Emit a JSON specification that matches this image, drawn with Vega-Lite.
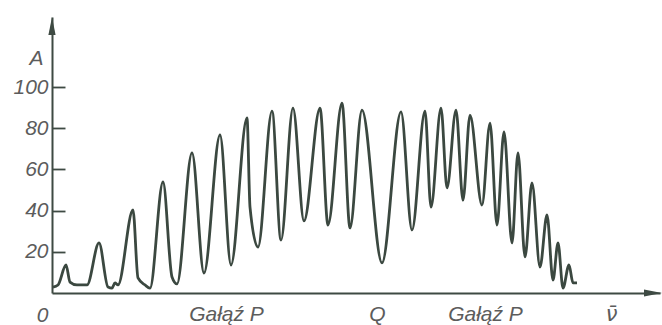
{
  "$schema": "https://vega.github.io/schema/vega-lite/v6.json",
  "width": 608,
  "height": 276,
  "autosize": {"type": "none"},
  "padding": {"left": 52, "top": 17, "right": 2, "bottom": 32},
  "background": "#ffffff",
  "config": {
    "view": {"stroke": null},
    "axis": {
      "grid": false,
      "labelFont": "Liberation Sans",
      "labelFontStyle": "italic",
      "labelColor": "#5c5c5c",
      "domainColor": "#3e4a43",
      "domainWidth": 2,
      "tickColor": "#3e4a43",
      "tickWidth": 1.8
    }
  },
  "data": {
    "values": [
      {"nu": 1, "A": 2.9}, {"nu": 6, "A": 3.9}, {"nu": 14, "A": 13.6}, {"nu": 18, "A": 5.3},
      {"nu": 25, "A": 3.9}, {"nu": 35, "A": 3.9}, {"nu": 47, "A": 24.3}, {"nu": 56, "A": 2.9},
      {"nu": 60, "A": 2.4}, {"nu": 63, "A": 4.9}, {"nu": 66, "A": 3.9}, {"nu": 81, "A": 40.3},
      {"nu": 86, "A": 7.3}, {"nu": 93, "A": 3.9}, {"nu": 98, "A": 2.4}, {"nu": 111, "A": 53.9},
      {"nu": 120, "A": 7.8}, {"nu": 125, "A": 4.4}, {"nu": 140, "A": 68.0}, {"nu": 152, "A": 9.7},
      {"nu": 168, "A": 76.7}, {"nu": 179, "A": 13.6}, {"nu": 195, "A": 85.0}, {"nu": 198, "A": 41.7},
      {"nu": 206, "A": 22.3}, {"nu": 220, "A": 88.3}, {"nu": 229, "A": 25.7}, {"nu": 241, "A": 89.8},
      {"nu": 252, "A": 35.0}, {"nu": 268, "A": 89.8}, {"nu": 276, "A": 33.0}, {"nu": 290, "A": 92.2},
      {"nu": 298, "A": 31.6}, {"nu": 310, "A": 88.8}, {"nu": 330, "A": 14.6}, {"nu": 349, "A": 87.9},
      {"nu": 360, "A": 30.6}, {"nu": 373, "A": 88.3}, {"nu": 379, "A": 41.7}, {"nu": 389, "A": 89.8},
      {"nu": 395, "A": 51.0}, {"nu": 404, "A": 88.8}, {"nu": 411, "A": 45.1}, {"nu": 418, "A": 86.4},
      {"nu": 430, "A": 42.7}, {"nu": 438, "A": 82.5}, {"nu": 445, "A": 33.0}, {"nu": 452, "A": 78.2},
      {"nu": 460, "A": 24.3}, {"nu": 466, "A": 68.0}, {"nu": 473, "A": 17.5}, {"nu": 480, "A": 53.4},
      {"nu": 488, "A": 12.6}, {"nu": 495, "A": 37.9}, {"nu": 501, "A": 6.3}, {"nu": 506, "A": 24.3},
      {"nu": 511, "A": 2.4}, {"nu": 517, "A": 13.6}, {"nu": 521, "A": 4.9}, {"nu": 525, "A": 4.9}
    ]
  },
  "layer": [
    {
      "mark": {"type": "line", "interpolate": "monotone", "color": "#3b4840", "strokeWidth": 2.8},
      "encoding": {
        "x": {
          "field": "nu", "type": "quantitative",
          "scale": {"domain": [0, 608], "nice": false, "zero": false},
          "axis": {
            "values": [174, 325, 433, 559],
            "labelExpr": "datum.value == 174 ? 'Gałąź P' : datum.value == 325 ? 'Q' : datum.value == 433 ? 'Gałąź P' : 'ν̄'",
            "labelFont": {"condition": {"test": "datum.value == 559", "value": "DejaVu Sans"}, "value": "Liberation Sans"},
            "ticks": false,
            "labelPadding": 10,
            "labelFontSize": 21,
            "labelFlush": false,
            "labelOverlap": false,
            "title": null
          }
        },
        "y": {
          "field": "A", "type": "quantitative",
          "scale": {"domain": [0, 134], "nice": false},
          "axis": {
            "values": [0, 20, 40, 60, 80, 100],
            "tickSize": -13,
            "labelPadding": 17,
            "labelFontSize": 21,
            "labelFlush": false,
            "labelOverlap": false,
            "tickOpacity": {"condition": {"test": "datum.value == 0", "value": 0}, "value": 1},
            "labelBaseline": {"condition": {"test": "datum.value == 0", "value": "top"}, "value": "middle"},
            "labelOffset": {"condition": {"test": "datum.value == 0", "value": 11}, "value": 0},
            "title": "A",
            "titleAngle": 0,
            "titleX": -16,
            "titleY": 41,
            "titleFont": "Liberation Sans",
            "titleFontStyle": "italic",
            "titleFontWeight": "normal",
            "titleFontSize": 21,
            "titleColor": "#5c5c5c",
            "titleAlign": "center",
            "titleBaseline": "middle"
          }
        }
      }
    },
    {
      "data": {"values": [{}]},
      "mark": {"type": "point", "shape": "M0,-1L0.4,1L-0.4,1Z", "filled": true, "size": 324, "color": "#3e4a43", "opacity": 1, "strokeWidth": 0, "yOffset": 9},
      "encoding": {"x": {"datum": 0, "type": "quantitative"}, "y": {"datum": 134, "type": "quantitative"}}
    },
    {
      "data": {"values": [{}]},
      "mark": {"type": "point", "shape": "M1,0L-1,-0.4L-1,0.4Z", "filled": true, "size": 324, "color": "#3e4a43", "opacity": 1, "strokeWidth": 0, "xOffset": -7},
      "encoding": {"x": {"datum": 608, "type": "quantitative"}, "y": {"datum": 0, "type": "quantitative"}}
    }
  ]
}
